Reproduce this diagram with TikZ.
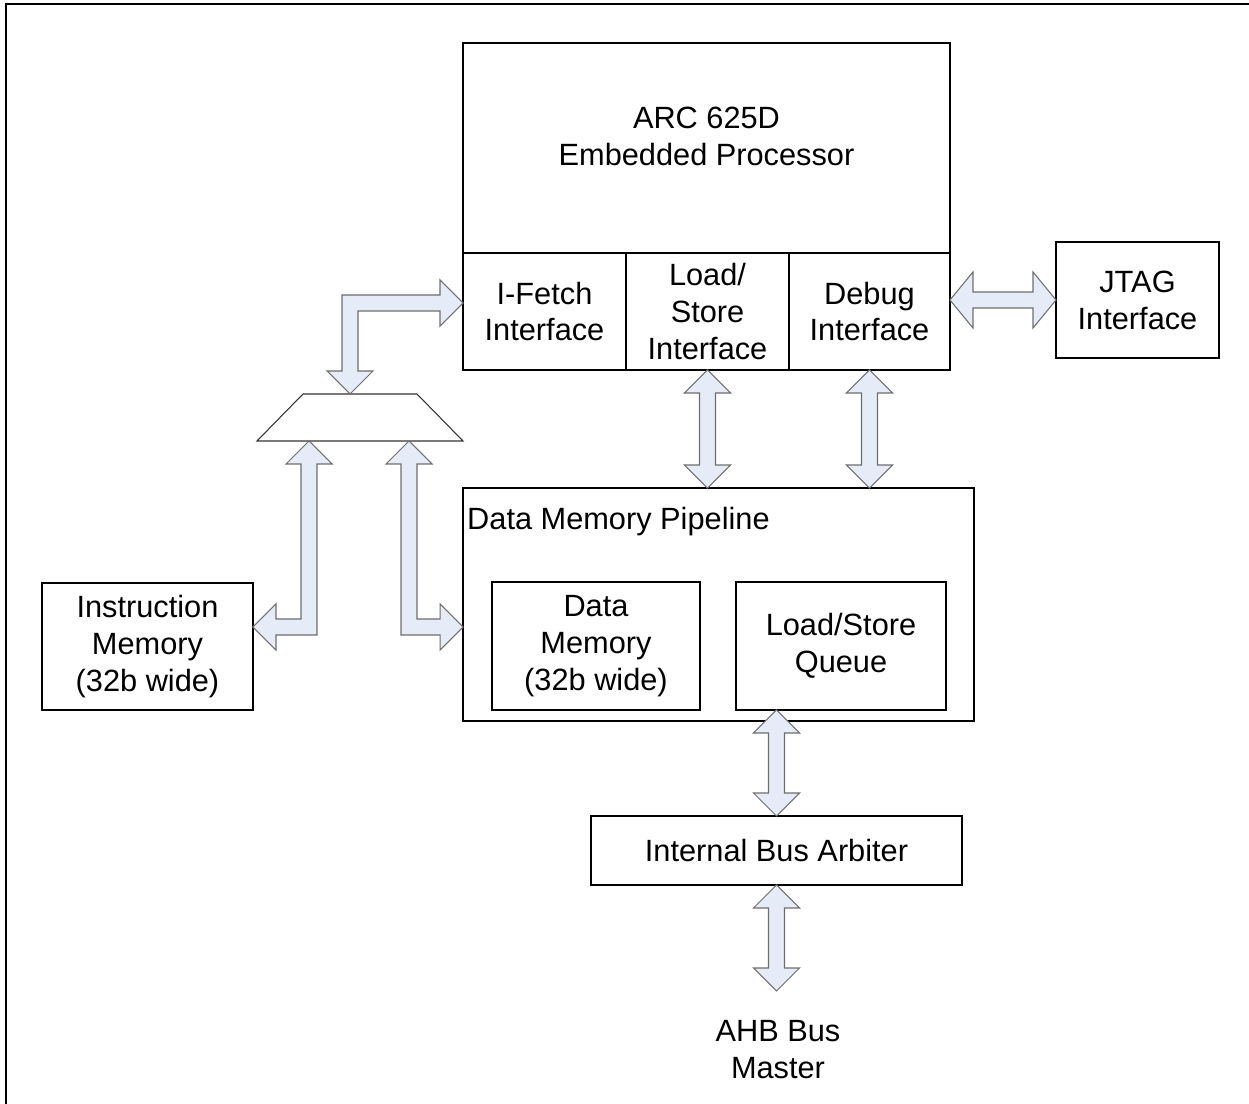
\documentclass[tikz,border=0pt]{standalone}
\usepackage{fontspec}
\setmainfont{Liberation Sans}
\usetikzlibrary{calc}

\definecolor{busfill}{HTML}{E6ECF7}
\definecolor{busline}{HTML}{6E6E6E}

\newcommand*{\bushead}{0.46cm}
\newcommand*{\buslen}{0.46cm}
\newcommand*{\busw}{0.16cm}

% vertical bus: #1 upper tip, #2 lower tip
\newcommand{\vbus}[2]{%
  \filldraw[bus] let \p1=#1, \p2=#2 in
    (\x1,\y1) -- (\x1+\bushead,\y1-\buslen) -- (\x1+\busw,\y1-\buslen)
    -- (\x1+\busw,\y2+\buslen) -- (\x1+\bushead,\y2+\buslen) -- (\x1,\y2)
    -- (\x1-\bushead,\y2+\buslen) -- (\x1-\busw,\y2+\buslen)
    -- (\x1-\busw,\y1-\buslen) -- (\x1-\bushead,\y1-\buslen) -- cycle;}

% horizontal bus: #1 left tip, #2 right tip
\newcommand{\hbus}[2]{%
  \filldraw[bus] let \p1=#1, \p2=#2 in
    (\x1,\y1) -- (\x1+\buslen,\y1+0.56cm) -- (\x1+\buslen,\y1+\busw)
    -- (\x2-\buslen,\y1+\busw) -- (\x2-\buslen,\y1+0.56cm) -- (\x2,\y1)
    -- (\x2-\buslen,\y1-0.56cm) -- (\x2-\buslen,\y1-\busw)
    -- (\x1+\buslen,\y1-\busw) -- (\x1+\buslen,\y1-0.56cm) -- cycle;}

% bent bus: #1 vertical tip, #2 horizontal tip,
% #3 = 1 if #1 lies below the bend, else -1; #4 = 1 if #2 lies right of the bend, else -1
\newcommand{\lbus}[4]{%
  \filldraw[bus] let \p1=#1, \p2=#2 in
    (\x1,\y1) -- ({\x1+(#4)*\bushead},{\y1+(#3)*\buslen})
    -- ({\x1+(#4)*\busw},{\y1+(#3)*\buslen})
    -- ({\x1+(#4)*\busw},{\y2-(#3)*\busw})
    -- ({\x2-(#4)*\buslen},{\y2-(#3)*\busw})
    -- ({\x2-(#4)*\buslen},{\y2-(#3)*\bushead}) -- (\x2,\y2)
    -- ({\x2-(#4)*\buslen},{\y2+(#3)*\bushead})
    -- ({\x2-(#4)*\buslen},{\y2+(#3)*\busw})
    -- ({\x1-(#4)*\busw},{\y2+(#3)*\busw})
    -- ({\x1-(#4)*\busw},{\y1+(#3)*\buslen})
    -- ({\x1-(#4)*\bushead},{\y1+(#3)*\buslen}) -- cycle;}

\begin{document}
\begin{tikzpicture}[
        x=0.02cm, y=-0.02cm,
        every node/.style={font=\fontsize{17.5}{21}\selectfont, align=center},
        box/.style={draw, line width=1pt, outer sep=0pt},
        bus/.style={fill=busfill, draw=busline, line width=0.6pt},
        mux/.style={draw=black!80, line width=0.6pt},
      ]
      \useasboundingbox (0,0) rectangle (1249,1104);
      \draw[line width=1.2pt] (6,1104) -- (6,4) -- (1249,4);

      % processor
      \node[box, minimum width=9.74cm, minimum height=4.2cm] (cpu) at (706.5,148) {};
      \node (cputxt) at (706.5,136) {ARC 625D\\Embedded Processor};
      \node[box, minimum width=3.26cm, minimum height=2.34cm] (ifetch) at (544.5,311.5) {I-Fetch\\Interface};
      \node[box, minimum width=3.24cm, minimum height=2.34cm] (lsif) at (707.5,311.5) {Load/\\Store\\Interface};
      \node[box, minimum width=3.22cm, minimum height=2.34cm] (dbgif) at (869.5,311.5) {Debug\\Interface};
      \node[box, minimum width=3.26cm, minimum height=2.32cm] (jtag) at (1137.5,300) {JTAG\\Interface};

      % data side
      \node[box, minimum width=10.22cm, minimum height=4.66cm] (dmp) at (718.5,604.5) {};
      \node[anchor=west] (dmptxt) at (461,522) {Data Memory Pipeline};
      \node[box, minimum width=4.16cm, minimum height=2.56cm] (dmem) at (596,646) {Data\\Memory\\(32b wide)};
      \node[box, minimum width=4.2cm, minimum height=2.56cm] (lsq) at (841,646) {Load/Store\\Queue};
      \node[box, minimum width=4.22cm, minimum height=2.54cm] (imem) at (147.5,646.5) {Instruction\\Memory\\(32b wide)};
      \node[box, minimum width=7.42cm, minimum height=1.38cm] (arb) at (776.5,850.5) {Internal Bus Arbiter};
      \node (ahb) at (778,1050) {AHB Bus\\Master};

      % mux
      \coordinate (muxbl) at (257,441);
      \coordinate (muxtl) at (303,394);
      \coordinate (muxtr) at (417,394);
      \coordinate (muxbr) at (463,441);
      \draw[mux] (muxbl) -- (muxtl) -- (muxtr) -- (muxbr) -- cycle;
      \coordinate (muxin) at (350,394);
      \coordinate (muxa) at (309,441);
      \coordinate (muxb) at (409,441);

      % bus ends
      \coordinate (iftip) at (ifetch.west |- 0,303);
      \coordinate (imtip) at (imem.east |- 0,627);
      \coordinate (dptip) at (dmp.west |- 0,627);
      \coordinate (ahbtip) at (arb.south |- 0,991);

      % buses
      \lbus{(muxin)}{(iftip)}{1}{1}
      \lbus{(muxa)}{(imtip)}{-1}{-1}
      \lbus{(muxb)}{(dptip)}{-1}{1}
      \vbus{(lsif.south)}{(lsif.south |- dmp.north)}
      \vbus{(dbgif.south)}{(dbgif.south |- dmp.north)}
      \vbus{(arb.north |- lsq.south)}{(arb.north)}
      \vbus{(arb.south)}{(ahbtip)}
      \hbus{(dbgif.east |- jtag.west)}{(jtag.west)}
    \end{tikzpicture}
\end{document}
